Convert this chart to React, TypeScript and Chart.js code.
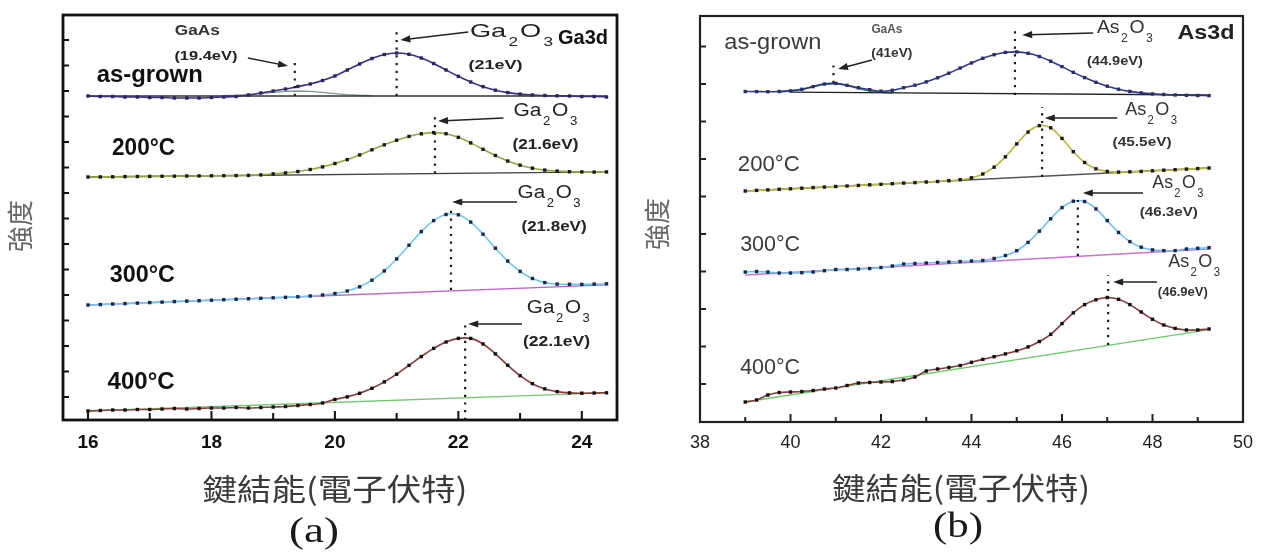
import React, { useEffect, useRef } from 'react';
import { Chart, registerables } from 'chart.js';

Chart.register(...registerables);

// ================= Panel (a): Ga3d =================
const ENERGY_A = [16.0, 16.2, 16.4, 16.6, 16.8, 17.0, 17.2, 17.4, 17.6, 17.8, 18.0, 18.2, 18.4, 18.6, 18.8, 19.0, 19.2, 19.4, 19.6, 19.8, 20.0, 20.2, 20.4, 20.6, 20.8, 21.0, 21.2, 21.4, 21.6, 21.8, 22.0, 22.2, 22.4, 22.6, 22.8, 23.0, 23.2, 23.4, 23.6, 23.8, 24.0, 24.2, 24.4];
const GA3D_ASGROWN = [324, 323.5, 323.5, 323, 323, 322.5, 322.5, 322, 322, 322, 322.5, 323, 323.5, 325, 327, 329, 331, 333.5, 336, 339.5, 344, 350, 356, 361.5, 365.5, 367, 365.7, 362, 356.5, 350, 343.7, 338, 333.3, 329.8, 327.4, 325.9, 325, 324.5, 324.2, 324, 323.5, 323.5, 323];
const GA3D_200C = [243, 243.1, 243.2, 243.4, 243.5, 243.6, 243.7, 243.8, 244, 244.1, 244.2, 244.3, 244.4, 244.6, 245.1, 246.1, 247.1, 248.5, 250.5, 253.1, 256.5, 260.4, 265.1, 270.2, 275.2, 279.8, 283.6, 286.2, 287.4, 286.3, 282.7, 277.1, 270.7, 264.5, 259, 254.8, 251.8, 249.9, 248.9, 248.3, 248.1, 247.9, 248.1];
const GA3D_300C = [115, 115.5, 116, 116.4, 116.9, 117.4, 117.9, 118.4, 118.9, 119.3, 119.8, 120.3, 120.8, 121.3, 121.7, 122.2, 122.7, 123.2, 124, 125, 126.5, 129, 133.2, 139.8, 149.1, 161.1, 174.8, 188.4, 199.4, 205.5, 205.2, 197.9, 185.8, 171.8, 158.9, 148.6, 141.5, 137.4, 135.9, 135.7, 135.6, 135.9, 136.2];
const GA3D_400C = [9, 9.5, 10, 10, 10.5, 10.5, 11, 11.5, 11, 11.5, 12, 12, 12.5, 12, 12.5, 13, 13.5, 14.5, 15.5, 17, 20.6, 23.1, 26.7, 31.7, 38.1, 45.8, 54.6, 63.5, 71.6, 78, 81.6, 81.6, 76, 66.1, 54.7, 44.3, 36.3, 31.1, 28.4, 27.1, 26.8, 27, 27.2];
const GAAS_ENERGY_A = [18.2, 18.4, 18.6, 18.8, 19.0, 19.2, 19.4, 19.6, 19.8, 20.0, 20.2, 20.4, 20.6];
const GAAS_COMP_A = [324.3, 324.7, 325.4, 326.4, 327.6, 328.6, 329, 328.6, 327.6, 326.4, 325.4, 324.7, 324.3];
const BASE_ENERGY_A = [16.0, 24.4];
const BASE_ASGROWN_A = [324, 324];
const BASE_200C_A = [243, 248.1];
const BASE_300C_A = [115, 135.2];
const BASE_400C_A = [9, 27.2];
const PEAK_A = [19.35, 21.0, 21.62, 21.88, 22.11];
const PEAK_LOW_A = [324, 324, 246.6, 130, 0];
const PEAK_HIGH_A = [358, 388, 308, 213, 100];
const X_TICKS_A = [16, 17, 18, 19, 20, 21, 22, 23, 24];
const X_LABELS_A = [16, 18, 20, 22, 24];
const Y_TICKS_A = [23, 48.5, 74, 99.5, 125, 150.5, 176, 201.5, 227, 252.5, 278, 303.5, 329, 354.5, 380];

// ================= Panel (b): As3d =================
const ENERGY_B = [39, 39.25, 39.5, 39.75, 40, 40.25, 40.5, 40.75, 41, 41.25, 41.5, 41.75, 42, 42.25, 42.5, 42.75, 43, 43.25, 43.5, 43.75, 44, 44.25, 44.5, 44.75, 45, 45.25, 45.5, 45.75, 46, 46.25, 46.5, 46.75, 47, 47.25, 47.5, 47.75, 48, 48.25, 48.5, 48.75, 49, 49.25];
const AS3D_ASGROWN = [330.5, 330.4, 330.3, 330.5, 331.1, 332.7, 335.4, 338, 338.6, 336.7, 334.3, 332.3, 330.8, 331.7, 334.3, 336.8, 340.1, 344.2, 348.8, 354, 359.1, 363.7, 367.3, 369.6, 370.1, 368.7, 365.5, 360.8, 355.4, 349.7, 344.4, 339.7, 335.8, 332.8, 330.6, 329.1, 328.1, 327.5, 327, 326.7, 326.5, 326.4];
const AS3D_200C = [231, 231.6, 232.1, 232.7, 233.2, 233.8, 234.4, 234.9, 235.5, 236, 236.6, 237.2, 237.7, 238.3, 238.9, 239.4, 240, 240.5, 241.3, 242.3, 244.2, 248, 254.8, 265.2, 278.1, 289.9, 296.4, 294.2, 283.6, 270.3, 259.5, 253.2, 250.6, 249.9, 250.2, 250.6, 251.2, 251.8, 252.3, 252.9, 253.4, 254];
const AS3D_300C = [150, 150.5, 150, 149, 149, 149.3, 150, 151.3, 152.5, 152.5, 153, 153.5, 154.5, 156, 158, 158.5, 159, 159.5, 160, 160.5, 161, 161.5, 163.5, 166.5, 171.3, 179.6, 190.8, 203.2, 214.4, 220.8, 220.5, 213.1, 201.4, 189.5, 180.4, 174.8, 172.1, 171.3, 171.4, 173, 173.7, 174.3];
const AS3D_400C = [20, 22, 27, 29.5, 30, 30.5, 31.5, 33, 34, 36.5, 39, 39.5, 40, 40.5, 42, 45, 51, 53, 54.5, 56.5, 59.7, 62.6, 65.3, 68.1, 71.2, 75.1, 80.5, 87.7, 98.4, 109.2, 117.4, 122.2, 124.5, 122.7, 117.4, 110, 102.7, 97, 93.6, 92, 92, 93];
const GAAS_ENERGY_B = [39.75, 40, 40.25, 40.5, 40.75, 41, 41.25, 41.5, 41.75, 42, 42.25];
const GAAS_COMP_B = [330.2, 331.1, 332.7, 335.4, 338, 338.6, 336.7, 333.6, 331.1, 329.8, 329.2];
const BASE_ASGROWN_ENERGY_B = [40, 49.2];
const BASE_ASGROWN_B = [329.8, 327];
const BASE_ENERGY_B = [39, 49.25];
const BASE_200C_B = [231, 254];
const BASE_300C_B = [147, 173];
const BASE_400C_B = [20, 92.4];
const PEAK_B = [40.95, 44.96, 45.56, 46.35, 47.02];
const PEAK_LOW_B = [339, 327, 245, 166, 77];
const PEAK_HIGH_B = [357, 392, 315, 225, 147];
const X_TICKS_B = [39, 40, 41, 42, 43, 44, 45, 46, 47, 48, 49];
const X_LABELS_B = [38, 40, 42, 44, 46, 48, 50];
const Y_TICKS_B = [38, 75.5, 113, 150.5, 188, 225.5, 263, 300.5, 338, 375.5];

const SANS = '"Liberation Sans", Arial, sans-serif';
const CJK = '"Noto Sans CJK TC", "Noto Sans CJK SC", sans-serif';
const SERIF = '"Liberation Serif", "DejaVu Serif", serif';

const LABELS_A = [
  { t: 'GaAs', x: 17.77, y: 389, font: `bold 14px ${SANS}`, w: 45, color: '#333' },
  { t: '(19.4eV)', x: 17.91, y: 364, font: `bold 13px ${SANS}`, w: 63, color: '#222' },
  { t: 'as-grown', x: 17.0, y: 345, font: `bold 24px ${SANS}`, w: 106, color: '#111' },
  { t: 'Ga3d', x: 24.02, y: 382, font: `bold 20px ${SANS}`, w: 50, color: '#111' },
  { t: '(21eV)', x: 22.6, y: 355, font: `bold 13px ${SANS}`, w: 54, color: '#222' },
  { t: '200°C', x: 16.9, y: 272, font: `bold 24px ${SANS}`, w: 63, color: '#111' },
  { t: '(21.6eV)', x: 23.41, y: 275, font: `bold 14px ${SANS}`, w: 66, color: '#222' },
  { t: '300°C', x: 16.88, y: 145, font: `bold 24px ${SANS}`, w: 65, color: '#111' },
  { t: '(21.8eV)', x: 23.55, y: 193, font: `bold 14px ${SANS}`, w: 65, color: '#222' },
  { t: '400°C', x: 16.86, y: 38, font: `bold 24px ${SANS}`, w: 67, color: '#111' },
  { t: '(22.1eV)', x: 23.59, y: 78, font: `bold 14px ${SANS}`, w: 67, color: '#222' },
];
const CHEM_A = [
  { t: 'Ga2O3', x: 22.86, y: 388, size: 19, w: 83, color: '#222' },
  { t: 'Ga2O3', x: 23.41, y: 309, size: 19, w: 64, color: '#222' },
  { t: 'Ga2O3', x: 23.47, y: 227, size: 19, w: 63, color: '#222' },
  { t: 'Ga2O3', x: 23.62, y: 112, size: 19, w: 63, color: '#222' },
];
const ARROWS_A = [
  [18.59, 362, 19.24, 354],
  [22.16, 388, 21.06, 380],
  [22.73, 302, 21.67, 299],
  [22.95, 218, 21.9, 218],
  [23.03, 96, 22.16, 96],
];

const LABELS_B = [
  { t: 'as-grown', x: 39.61, y: 379, font: `22px ${SANS}`, w: 97, color: '#3a3a3a' },
  { t: 'GaAs', x: 42.13, y: 392, font: `bold 12px ${SANS}`, w: 31, color: '#555' },
  { t: '(41eV)', x: 42.24, y: 368, font: `bold 12px ${SANS}`, w: 41, color: '#333' },
  { t: 'As3d', x: 49.18, y: 389, font: `bold 21px ${SANS}`, w: 57, color: '#222' },
  { t: '(44.9eV)', x: 47.17, y: 360, font: `bold 12px ${SANS}`, w: 56, color: '#333' },
  { t: '200°C', x: 39.52, y: 257, font: `22px ${SANS}`, w: 62, color: '#3a3a3a' },
  { t: '(45.5eV)', x: 47.77, y: 279, font: `bold 12px ${SANS}`, w: 59, color: '#333' },
  { t: '300°C', x: 39.55, y: 177, font: `22px ${SANS}`, w: 60, color: '#3a3a3a' },
  { t: '(46.3eV)', x: 48.36, y: 209, font: `bold 12px ${SANS}`, w: 58, color: '#333' },
  { t: '400°C', x: 39.55, y: 54, font: `22px ${SANS}`, w: 60, color: '#3a3a3a' },
  { t: '(46.9eV)', x: 48.67, y: 129, font: `bold 12px ${SANS}`, w: 50, color: '#333' },
];
const CHEM_B = [
  { t: 'As2O3', x: 47.39, y: 394, size: 19, w: 56, color: '#333' },
  { t: 'As2O3', x: 47.97, y: 312, size: 19, w: 52, color: '#333' },
  { t: 'As2O3', x: 48.56, y: 239, size: 19, w: 51, color: '#333' },
  { t: 'As2O3', x: 48.92, y: 160, size: 19, w: 52, color: '#333' },
];
const ARROWS_B = [
  [41.8, 362, 41.05, 353],
  [46.69, 389, 45.12, 387],
  [47.22, 304, 45.62, 304],
  [47.79, 229, 46.46, 229],
  [48.1, 140, 47.13, 140],
];

const xy = (xs: number[], ys: number[]) => xs.map((x, i) => ({ x, y: ys[i] }));

function spectrum(xs: number[], ys: number[], fit: string, pts: string) {
  return [
    { data: xy(xs, ys), showLine: false, pointStyle: 'rect', pointRadius: 2.4, pointBackgroundColor: pts, pointBorderWidth: 0, order: 0 },
    { data: xy(xs, ys), showLine: true, borderColor: fit, borderWidth: 1.6, pointRadius: 0, tension: 0.4, order: 2 },
  ];
}
function straight(xs: number[], ys: number[], color: string, width = 1.3) {
  return { data: xy(xs, ys), showLine: true, borderColor: color, borderWidth: width, pointRadius: 0, order: 3 };
}
function peakLines(px: number[], lo: number[], hi: number[]) {
  return px.map((p, i) => ({
    data: [{ x: p, y: lo[i] }, { x: p, y: hi[i] }],
    showLine: true, borderColor: '#1a1a1a', borderWidth: 2.2, borderDash: [2.2, 5.5], pointRadius: 0, order: 1,
  }));
}

function drawText(ctx: any, s: any, px: number, py: number) {
  ctx.save();
  ctx.font = s.font;
  ctx.fillStyle = s.color || '#111';
  ctx.textBaseline = 'middle';
  ctx.textAlign = 'center';
  const m = ctx.measureText(s.t).width;
  const sx = s.w ? s.w / m : 1;
  ctx.translate(px, py);
  if (s.rot) ctx.rotate(s.rot);
  ctx.scale(sx, 1);
  ctx.fillText(s.t, 0, 0);
  ctx.restore();
}
function drawChem(ctx: any, s: any, px: number, py: number) {
  const runs: string[] = s.t.match(/[A-Za-z]+|\d+/g);
  const main = `${s.size}px ${SANS}`;
  const sub = `${Math.round(s.size * 0.62)}px ${SANS}`;
  const gap = 1.5;
  const widths = runs.map((r) => { ctx.font = /\d/.test(r) ? sub : main; return ctx.measureText(r).width; });
  const total = widths.reduce((a, b) => a + b, 0) + gap * (runs.length - 1);
  ctx.save();
  ctx.translate(px, py);
  ctx.scale(s.w / total, 1);
  ctx.fillStyle = s.color;
  ctx.textBaseline = 'middle';
  ctx.textAlign = 'left';
  let cx = -total / 2;
  runs.forEach((r, i) => {
    const isSub = /\d/.test(r);
    ctx.font = isSub ? sub : main;
    ctx.fillText(r, cx, isSub ? s.size * 0.58 : 0);
    cx += widths[i] + gap;
  });
  ctx.restore();
}
function drawArrow(ctx: any, x1: number, y1: number, x2: number, y2: number) {
  const ang = Math.atan2(y2 - y1, x2 - x1);
  const L = 10, W = 3.6;
  const c = Math.cos(ang), s = Math.sin(ang);
  ctx.beginPath();
  ctx.moveTo(x1, y1);
  ctx.lineTo(x2 - L * 0.7 * c, y2 - L * 0.7 * s);
  ctx.stroke();
  ctx.beginPath();
  ctx.moveTo(x2, y2);
  ctx.lineTo(x2 - L * c + W * s, y2 - L * s - W * c);
  ctx.lineTo(x2 - L * c - W * s, y2 - L * s + W * c);
  ctx.closePath();
  ctx.fill();
}

function makeDecor(cfg: any) {
  return {
    id: 'decor' + cfg.name,
    afterDraw(chart: any) {
      const { ctx, chartArea: a, scales } = chart;
      const X = (v: number) => scales.x.getPixelForValue(v);
      const Y = (v: number) => scales.y.getPixelForValue(v);
      ctx.save();
      ctx.strokeStyle = cfg.frameColor;
      ctx.lineWidth = cfg.frameWidth;
      ctx.strokeRect(a.left, a.top, a.right - a.left, a.bottom - a.top);
      ctx.lineWidth = 2;
      cfg.xTicks.forEach((v: number) => {
        const len = cfg.xLabels.includes(v) ? cfg.majorLen : cfg.minorLen;
        const p = X(v);
        ctx.beginPath(); ctx.moveTo(p, a.bottom); ctx.lineTo(p, a.bottom - len); ctx.stroke();
      });
      cfg.yTicks.forEach((v: number) => {
        const p = Y(v);
        ctx.beginPath(); ctx.moveTo(a.left, p); ctx.lineTo(a.left + cfg.yTickLen, p); ctx.stroke();
      });
      cfg.xLabels.forEach((v: number) => {
        drawText(ctx, { t: String(v), font: cfg.tickFont, color: cfg.tickColor }, X(v), a.bottom + cfg.tickLabelGap);
      });
      drawText(ctx, { t: '鍵結能(電子伏特)', font: `30px ${CJK}`, color: '#3a3a3a', w: cfg.xTitle.w }, cfg.xTitle.x, cfg.xTitle.y);
      drawText(ctx, { t: cfg.panel.t, font: `36px ${SERIF}`, color: '#1a1a1a', w: cfg.panel.w }, cfg.panel.x, cfg.panel.y);
      drawText(ctx, { t: '強度', font: `26px ${CJK}`, color: '#666', rot: -Math.PI / 2 }, cfg.yTitle.x, cfg.yTitle.y);
      cfg.labels.forEach((s: any) => drawText(ctx, s, X(s.x), Y(s.y)));
      cfg.chem.forEach((s: any) => drawChem(ctx, s, X(s.x), Y(s.y)));
      ctx.strokeStyle = '#222';
      ctx.fillStyle = '#222';
      ctx.lineWidth = 1.5;
      cfg.arrows.forEach((r: number[]) => drawArrow(ctx, X(r[0]), Y(r[1]), X(r[2]), Y(r[3])));
      ctx.restore();
    },
  };
}

const PANEL_A = {
  name: 'A', left: 0, width: 640,
  padding: { left: 63, right: 23, top: 15, bottom: 136 },
  xMin: 15.595, xMax: 24.57, yMax: 405,
  frameColor: '#111', frameWidth: 2.8,
  xTicks: X_TICKS_A, xLabels: X_LABELS_A, yTicks: Y_TICKS_A,
  majorLen: 9, minorLen: 7, yTickLen: 6,
  tickFont: `bold 19px ${SANS}`, tickColor: '#111', tickLabelGap: 23,
  xTitle: { x: 335, y: 489, w: 265 }, panel: { t: '(a)', x: 314, y: 533, w: 50 }, yTitle: { x: 20, y: 226 },
  labels: LABELS_A, chem: CHEM_A, arrows: ARROWS_A,
  datasets: [
    straight(BASE_ENERGY_A, BASE_ASGROWN_A, '#333'),
    straight(BASE_ENERGY_A, BASE_200C_A, '#444'),
    straight(BASE_ENERGY_A, BASE_300C_A, '#c25fc8'),
    straight(BASE_ENERGY_A, BASE_400C_A, '#72c872'),
    straight(GAAS_ENERGY_A, GAAS_COMP_A, '#7f9a86', 1.4),
    ...spectrum(ENERGY_A, GA3D_ASGROWN, '#3b2d80', '#2a2560'),
    ...spectrum(ENERGY_A, GA3D_200C, '#98a63e', '#1a1a1a'),
    ...spectrum(ENERGY_A, GA3D_300C, '#6cc8ec', '#1c2450'),
    ...spectrum(ENERGY_A, GA3D_400C, '#8b3a3a', '#111'),
    ...peakLines(PEAK_A, PEAK_LOW_A, PEAK_HIGH_A),
  ],
};

const PANEL_B = {
  name: 'B', left: 640, width: 627,
  padding: { left: 60, right: 24, top: 16, bottom: 134 },
  xMin: 38, xMax: 50, yMax: 406,
  frameColor: '#222', frameWidth: 2.2,
  xTicks: X_TICKS_B, xLabels: X_LABELS_B, yTicks: Y_TICKS_B,
  majorLen: 8, minorLen: 5, yTickLen: 6,
  tickFont: `18px ${SANS}`, tickColor: '#222', tickLabelGap: 21,
  xTitle: { x: 321, y: 488, w: 258 }, panel: { t: '(b)', x: 318, y: 528, w: 50 }, yTitle: { x: 17, y: 224 },
  labels: LABELS_B, chem: CHEM_B, arrows: ARROWS_B,
  datasets: [
    straight(BASE_ASGROWN_ENERGY_B, BASE_ASGROWN_B, '#222'),
    straight(BASE_ENERGY_B, BASE_200C_B, '#555'),
    straight(BASE_ENERGY_B, BASE_300C_B, '#d070d0'),
    straight(BASE_ENERGY_B, BASE_400C_B, '#6ccc6c'),
    straight(GAAS_ENERGY_B, GAAS_COMP_B, '#2e8b57', 1.8),
    ...spectrum(ENERGY_B, AS3D_ASGROWN, '#2f3a8a', '#27306a'),
    ...spectrum(ENERGY_B, AS3D_200C, '#b8b83a', '#1a1a1a'),
    ...spectrum(ENERGY_B, AS3D_300C, '#6cc0ec', '#1c2450'),
    ...spectrum(ENERGY_B, AS3D_400C, '#8b3a3a', '#111'),
    ...peakLines(PEAK_B, PEAK_LOW_B, PEAK_HIGH_B),
  ],
};

function Panel({ cfg }: { cfg: any }) {
  const ref = useRef<HTMLCanvasElement | null>(null);
  useEffect(() => {
    if (!ref.current) return;
    const chart = new Chart(ref.current, {
      type: 'scatter',
      data: { datasets: cfg.datasets },
      options: {
        responsive: false,
        animation: false,
        events: [],
        layout: { padding: cfg.padding },
        plugins: { legend: { display: false }, tooltip: { enabled: false }, title: { display: false } },
        scales: {
          x: { type: 'linear', min: cfg.xMin, max: cfg.xMax, display: false },
          y: { type: 'linear', min: 0, max: cfg.yMax, display: false },
        },
      },
      plugins: [makeDecor(cfg)],
    } as any);
    return () => chart.destroy();
  }, [cfg]);
  return (
    <canvas
      ref={ref}
      width={cfg.width}
      height={556}
      style={{ position: 'absolute', left: cfg.left, top: 0, width: cfg.width, height: 556 }}
    />
  );
}

export default function App() {
  return (
    <div style={{ position: 'absolute', left: 0, top: 0, width: 1267, height: 556, background: '#fff' }}>
      <Panel cfg={PANEL_A} />
      <Panel cfg={PANEL_B} />
    </div>
  );
}
